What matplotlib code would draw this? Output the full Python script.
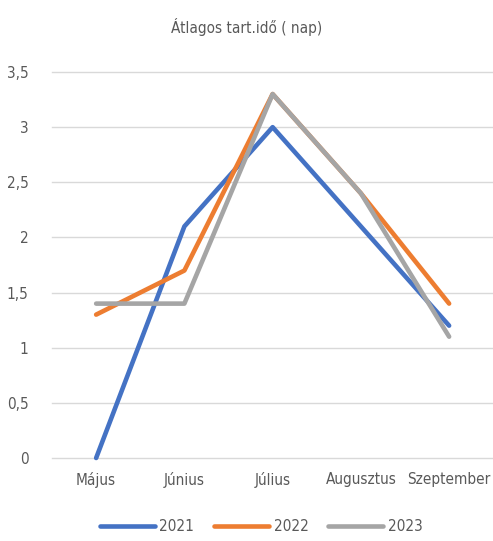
import matplotlib
matplotlib.use('agg')
import matplotlib.pyplot as plt
from matplotlib import font_manager

# narrow look: use condensed stretch if the font has it
names = set(f.name for f in font_manager.fontManager.ttflist)
fam = ['DejaVu Sans']
for n in ['Liberation Sans Narrow', 'Arial Narrow']:
    if n in names:
        fam = [n, 'DejaVu Sans']
        break
plt.rcParams['font.family'] = fam
plt.rcParams['font.stretch'] = 'condensed'

months = ['Május', 'Június', 'Július', 'Augusztus', 'Szeptember']
years = ['2021', '2022', '2023']
v2021 = [0, 2.1, 3.0, 2.1, 1.2]
v2022 = [1.3, 1.7, 3.3, 2.4, 1.4]
v2023 = [1.4, 1.4, 3.3, 2.4, 1.1]
colors = ['#4472C4', '#ED7D31', '#A5A5A5']
yticks = [0, 0.5, 1, 1.5, 2, 2.5, 3, 3.5]

txt = '#595959'
fs = 11
fig = plt.figure(figsize=(4.93, 5.41), dpi=100)
ax = fig.add_axes([0.1055, 0.1534, 0.895, 0.7135])

x = range(len(months))
for vals, c, lab in zip([v2021, v2022, v2023], colors, years):
    ax.plot(x, vals, color=c, lw=3.3, solid_capstyle='round',
            solid_joinstyle='round', label=lab, zorder=3, clip_on=False)

ax.set_xlim(-0.5, len(months) - 0.5)
ax.set_ylim(0, 3.5)
ax.set_yticks(yticks)
ax.set_yticklabels([('%g' % t).replace('.', ',') for t in yticks])
ax.set_xticks(list(x))
ax.set_xticklabels(months)
ax.tick_params(length=0, colors=txt, labelsize=fs)
ax.tick_params(axis='y', pad=17)
ax.tick_params(axis='x', pad=10)
for t in yticks:
    ax.axhline(t, color='#d9d9d9', lw=1, zorder=1, clip_on=False)
for s in ax.spines.values():
    s.set_visible(False)

fig.text(0.5, 0.95, 'Átlagos tart.idő ( nap)', ha='center', va='center',
         color=txt, fontsize=fs)
fig.legend(loc='center', bbox_to_anchor=(0.53, 0.027), ncol=3, frameon=False,
           handlelength=3.6, fontsize=fs, labelcolor=txt, columnspacing=1.3,
           handletextpad=0.3)

fig.savefig('out.png', dpi=100)
